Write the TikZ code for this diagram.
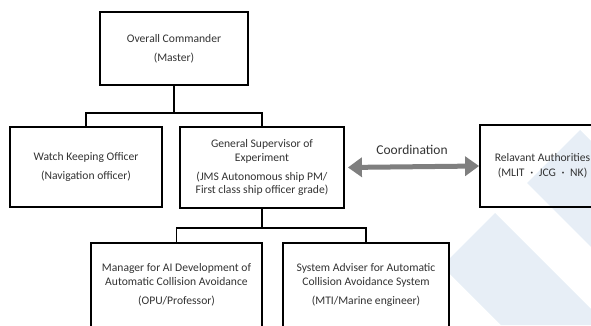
\documentclass[tikz,border=0pt]{standalone}
\usepackage{xcolor}
\usepackage{fontspec}
\setmainfont{Carlito}
\newfontfamily\cjk{Noto Sans CJK JP}
\usetikzlibrary{arrows.meta}
\definecolor{bandblue}{HTML}{E7EEF6}
\definecolor{textgray}{HTML}{333333}
\definecolor{arrowgray}{HTML}{7F7F7F}

\begin{document}
\begin{tikzpicture}[x=1pt,y=-1pt,
    box/.style={draw=black,line width=1.8pt,fill=white,align=center,text=textgray,
      font=\fontsize{11.6}{13.5}\selectfont,inner sep=0pt},
    link/.style={line width=1.8pt}]
                \useasboundingbox (0,0) rectangle (591,325);
                \clip (0,0) rectangle (591,325);
                \fill[bandblue] (580,130) -- (527,183) -- (591,247) -- (591,141) -- cycle;
                \fill[bandblue] (495,213) -- (442,266) -- (501,325) -- (607,325) -- cycle;
                \node[box,minimum width=148pt,minimum height=73pt] (commander) at (174,48.5) {Overall Commander\\[5.5pt](Master)};
                \node[box,minimum width=152pt,minimum height=80pt] (watch) at (86,167) {Watch Keeping Officer\\[5.5pt](Navigation officer)};
                \node[box,minimum width=164pt,minimum height=81pt] (supervisor) at (262,167.5) {General Supervisor of\\Experiment\\[5.5pt](JMS Autonomous ship PM/\\First class ship officer grade)};
                \node[box,fill=none,minimum width=125pt,minimum height=82pt] (authorities) at (542.5,166) {Relavant Authorities\\[2pt](MLIT {\cjk\fontsize{9}{13}\selectfont ・} JCG {\cjk\fontsize{9}{13}\selectfont ・} NK)};
                \node[box,minimum width=171pt,minimum height=84pt] (manager) at (176.5,285) {Manager for AI Development of\\Automatic Collision Avoidance\\[5.5pt](OPU/Professor)};
                \node[box,minimum width=166pt,minimum height=84pt] (adviser) at (366,285) {System Adviser for Automatic\\Collision Avoidance System\\[5.5pt](MTI/Marine engineer)};
                \draw[link] (commander.south) -- ++(0,27) coordinate (fork1);
                \draw[link] (watch.north) |- (fork1) -| (supervisor.north);
                \draw[link] (supervisor.south) -- ++(0,19) coordinate (fork2);
                \draw[link] (manager.north) |- (fork2) -| (adviser.north);
                \draw[arrowgray,line width=5pt,{Triangle[length=14pt,width=19pt]}-{Triangle[length=14pt,width=19pt]},shorten <=3pt]
                    (supervisor.east) -- (authorities.west) node[midway,above=6pt,text=textgray,font=\fontsize{13.5}{15}\selectfont] (coordlabel) {Coordination};
            \end{tikzpicture}
\end{document}
